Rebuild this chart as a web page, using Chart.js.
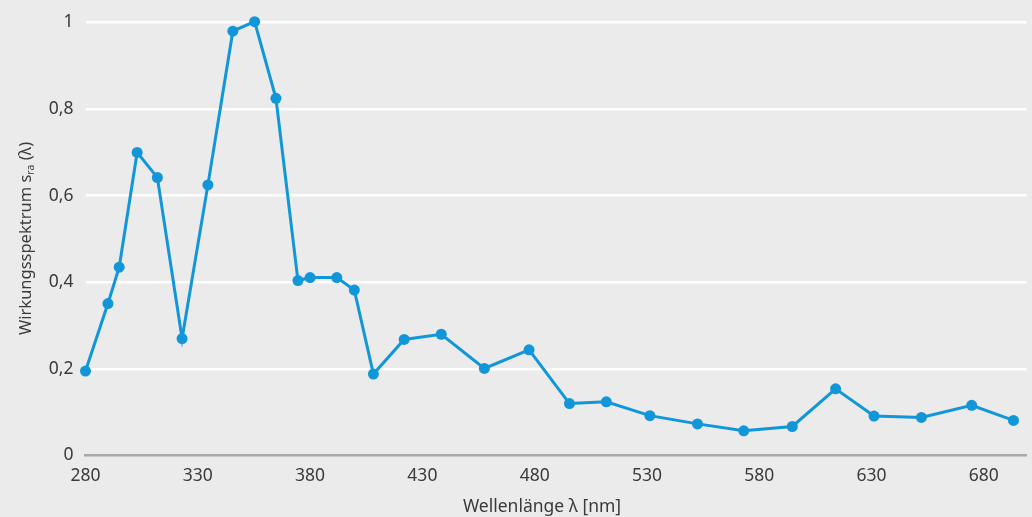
<!DOCTYPE html>
<html>
<head>
<meta charset="utf-8">
<script src="https://cdn.jsdelivr.net/npm/chart.js@4/dist/chart.umd.min.js"></script>
<style>
  html, body { margin: 0; padding: 0; background: #eaebea; }
  #wrap { width: 1032px; height: 517px; }
</style>
</head>
<body>
<div id="wrap"><canvas id="c" width="1032" height="517"></canvas></div>
<script>
// Wavelength in nm and the action spectrum value at each measured point
const wavelengths = [280, 290, 295, 303, 312, 323, 334.5, 345.6, 355.3, 364.8,
                     374.6, 380, 391.9, 399.7, 408.2, 421.9, 438.4, 457.6, 477.5, 495.5,
                     511.9, 531.3, 552.5, 573.1, 594.7, 614, 631.1, 652.2, 674.6, 693.2];
const response = [0.195, 0.351, 0.435, 0.700, 0.642, 0.270, 0.625, 0.980, 1.002, 0.825,
                  0.404, 0.411, 0.411, 0.382, 0.188, 0.268, 0.280, 0.201, 0.244, 0.120,
                  0.124, 0.092, 0.073, 0.057, 0.067, 0.154, 0.091, 0.088, 0.116, 0.081];

// Axis ticks and their printed labels
const xTicks = [280, 330, 380, 430, 480, 530, 580, 630, 680];
const yTicks = [0, 0.2, 0.4, 0.6, 0.8, 1];
const yTickLabels = ['0', '0,2', '0,4', '0,6', '0,8', '1'];

// Axis titles (the y title has a subscript part)
const xTitle = 'Wellenlänge λ [nm]';
const yTitleParts = ['Wirkungsspektrum s', 'ra', ' (λ)'];

const FONT = '"Noto Sans", "Open Sans", sans-serif';
const TEXT = '#3a3a3a';
const BLUE = '#1196d9';

const points = wavelengths.map((w, i) => ({ x: w, y: response[i] }));

// Draws both axis titles, including the subscript in the y title
const axisTitles = {
  id: 'axisTitles',
  afterDraw(chart) {
    const ctx = chart.ctx;
    ctx.save();
    ctx.fillStyle = TEXT;
    ctx.font = '17.5px ' + FONT;
    ctx.textAlign = 'center';
    ctx.textBaseline = 'middle';
    ctx.fillText(xTitle, 542, 507);

    // rotated y title
    const mainFont = '16.5px ' + FONT;
    const subFont = '10.5px ' + FONT;
    ctx.font = mainFont;
    const w0 = ctx.measureText(yTitleParts[0]).width;
    const w2 = ctx.measureText(yTitleParts[2]).width;
    ctx.font = subFont;
    const w1 = ctx.measureText(yTitleParts[1]).width;
    const total = w0 + w1 + w2;
    ctx.translate(30.5, 238.5);
    ctx.rotate(-Math.PI / 2);
    ctx.textAlign = 'left';
    ctx.textBaseline = 'alphabetic';
    let x = -total / 2;
    ctx.font = mainFont;
    ctx.fillText(yTitleParts[0], x, 0);
    x += w0;
    ctx.font = subFont;
    ctx.fillText(yTitleParts[1], x, 3.5);
    x += w1;
    ctx.font = mainFont;
    ctx.fillText(yTitleParts[2], x, 0);
    ctx.restore();
  }
};

new Chart(document.getElementById('c'), {
  type: 'line',
  data: {
    datasets: [{
      data: points,
      borderColor: BLUE,
      backgroundColor: BLUE,
      borderWidth: 3,
      pointRadius: 5.5,
      pointHoverRadius: 5.5,
      pointBorderWidth: 0,
      pointBackgroundColor: BLUE,
      tension: 0,
      clip: false
    }]
  },
  options: {
    responsive: false,
    animation: false,
    devicePixelRatio: 1,
    layout: { padding: { top: 22.5, left: 0, right: 0, bottom: 0 } },
    plugins: {
      legend: { display: false },
      tooltip: { enabled: false }
    },
    scales: {
      x: {
        type: 'linear',
        min: 280,
        max: 699,
        afterBuildTicks(axis) { axis.ticks = xTicks.map(v => ({ value: v })); },
        afterFit(axis) { axis.height = 61.5; },
        grid: { display: false, drawTicks: false },
        border: { display: true, color: '#a8a9aa', width: 2.5 },
        ticks: {
          color: TEXT,
          font: { family: FONT, size: 17.5 },
          padding: 10,
          maxRotation: 0,
          autoSkip: false
        }
      },
      y: {
        min: 0,
        max: 1,
        afterBuildTicks(axis) { axis.ticks = yTicks.map(v => ({ value: v })); },
        afterFit(axis) { axis.width = 85.5; },
        grid: {
          drawTicks: false,
          lineWidth: 2.5,
          color: ctx => (ctx.tick && ctx.tick.value === 0) ? 'rgba(0,0,0,0)' : '#ffffff'
        },
        border: { display: false },
        ticks: {
          color: TEXT,
          font: { family: FONT, size: 17.5 },
          padding: 12,
          callback: (v, i) => yTickLabels[i]
        }
      }
    }
  },
  plugins: [axisTitles]
});
</script>
</body>
</html>
